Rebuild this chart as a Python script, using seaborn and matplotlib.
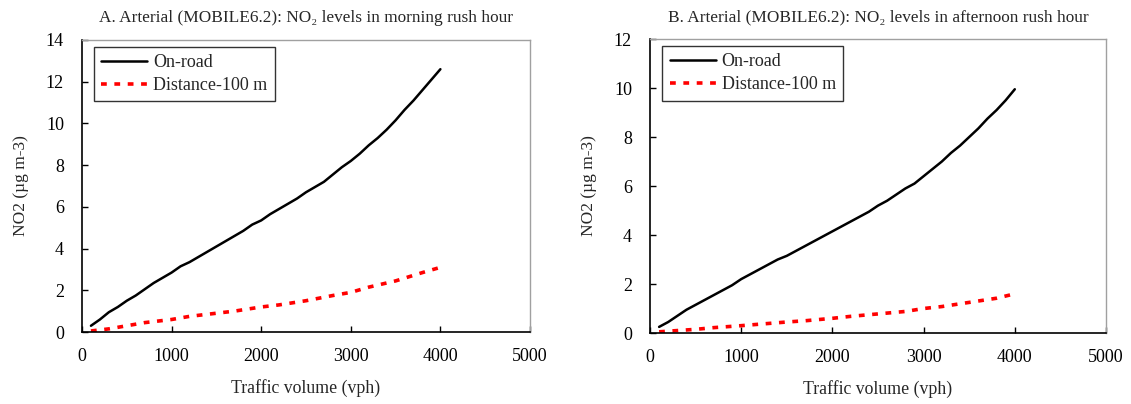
import numpy as np
import pandas as pd
import matplotlib
matplotlib.use("Agg")
import matplotlib.pyplot as plt
import seaborn as sns

# ---- data ----
x_road = [100, 200, 300, 400, 500, 600, 700, 800, 900, 1000, 1100, 1200, 1300, 1400,
          1500, 1600, 1700, 1800, 1900, 2000, 2100, 2200, 2300, 2400, 2500, 2600, 2700,
          2800, 2900, 3000, 3100, 3200, 3300, 3400, 3500, 3600, 3700, 3800, 3900, 4000]
a_road = [0.3, 0.6, 0.95, 1.2, 1.5, 1.75, 2.05, 2.35, 2.6, 2.85, 3.15, 3.35, 3.6, 3.85,
          4.1, 4.35, 4.6, 4.85, 5.15, 5.35, 5.65, 5.9, 6.15, 6.4, 6.7, 6.95, 7.2,
          7.55, 7.9, 8.2, 8.55, 8.95, 9.3, 9.7, 10.15, 10.65, 11.1, 11.6, 12.1, 12.6]
b_road = [0.25, 0.45, 0.7, 0.95, 1.15, 1.35, 1.55, 1.75, 1.95, 2.2, 2.4, 2.6, 2.8, 3.0,
          3.15, 3.35, 3.55, 3.75, 3.95, 4.15, 4.35, 4.55, 4.75, 4.95, 5.2, 5.4, 5.65,
          5.9, 6.1, 6.4, 6.7, 7.0, 7.35, 7.65, 8.0, 8.35, 8.75, 9.1, 9.5, 9.95]

x_dist = [100, 300, 500, 700, 1000, 1200, 1500, 1700, 2000, 2200, 2500, 2800, 3000,
          3200, 3500, 3800, 4000]
a_dist = [0.05, 0.15, 0.3, 0.45, 0.6, 0.75, 0.9, 1.0, 1.2, 1.3, 1.5, 1.75, 1.9,
          2.15, 2.45, 2.85, 3.1]
b_dist = [0.05, 0.1, 0.15, 0.22, 0.3, 0.36, 0.45, 0.5, 0.6, 0.68, 0.78, 0.88, 1.0,
          1.08, 1.25, 1.42, 1.6]

titles = ["A. Arterial (MOBILE6.2): NO\u2082 levels in morning rush hour",
          "B. Arterial (MOBILE6.2): NO\u2082 levels in afternoon rush hour"]
series_names = ["On-road", "Distance-100 m"]
x_label = "Traffic volume (vph)"
y_label = "NO2 (\u00b5g m-3)"
y_tops = [14, 12]

sns.set_style("ticks")
plt.rcParams["font.family"] = ["Liberation Serif", "DejaVu Serif"]

fig = plt.figure(figsize=(11.31, 4.04), dpi=100)
axes = [fig.add_axes([0.0725, 0.1782, 0.3961, 0.7228]),
        fig.add_axes([0.5747, 0.1757, 0.4032, 0.7277])]

panels = [(a_road, a_dist), (b_road, b_dist)]
for ax, (road, dist), title, ytop in zip(axes, panels, titles, y_tops):
    df_r = pd.DataFrame({"x": x_road, "y": road})
    df_d = pd.DataFrame({"x": x_dist, "y": dist})
    sns.lineplot(data=df_r, x="x", y="y", ax=ax, color="black", linewidth=1.8,
                 label=series_names[0])
    sns.lineplot(data=df_d, x="x", y="y", ax=ax, color="#ff0000", linewidth=2.6,
                 linestyle=(0, (1.6, 2.1)), label=series_names[1])
    ax.set_xlim(0, 5000)
    ax.set_ylim(0, ytop)
    ax.set_xticks([0, 1000, 2000, 3000, 4000, 5000])
    ax.set_yticks(list(range(0, ytop + 1, 2)))
    ax.set_xlabel(x_label, fontsize=12.8, labelpad=10)
    ax.set_ylabel(y_label, fontsize=12.5, labelpad=12)
    ax.set_title(title, fontsize=12.4, pad=13)
    ax.tick_params(axis="both", labelsize=13, direction="in", length=4.5, width=1,
                   colors="black")
    ax.tick_params(axis="x", pad=11.5)
    ax.tick_params(axis="y", pad=13)
    for s in ["left", "bottom"]:
        ax.spines[s].set_color("black")
        ax.spines[s].set_linewidth(1.2)
    for s in ["top", "right"]:
        ax.spines[s].set_color("#a0a0a0")
        ax.spines[s].set_linewidth(1.0)
    leg = ax.legend(loc="upper left", bbox_to_anchor=(0.027, 0.977), fontsize=13,
                    frameon=True, fancybox=False, handlelength=2.55, handletextpad=0.33,
                    borderpad=0.4, labelspacing=0.35, borderaxespad=0)
    leg.get_frame().set_edgecolor("black")
    leg.get_frame().set_linewidth(1.0)

fig.savefig("out.png", dpi=100)
